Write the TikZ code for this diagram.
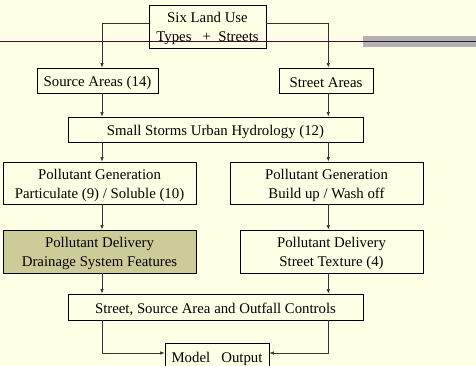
\documentclass[tikz,border=0pt]{standalone}
\usepackage{fontspec}
\setmainfont{Liberation Serif}
\usetikzlibrary{arrows.meta,calc}
\definecolor{bg}{HTML}{FFFFE5}
\definecolor{olive}{HTML}{CCCC99}
\definecolor{barg}{HTML}{B2B2B2}
\definecolor{rule}{HTML}{3A0A3A}
\begin{document}
\begin{tikzpicture}[x=1pt,y=-1pt,
  box/.style={draw=black,line width=0.9pt,inner sep=0pt,fill=bg},
  txt/.style={inner sep=0pt,align=center,yshift=-2pt,
    font=\fontsize{14.8}{19}\selectfont},
  arr/.style={draw=black!80,line width=0.6pt,-{Latex[length=4.5pt,width=3.5pt]}}]
\fill[bg] (0,0) rectangle (476,366);
\useasboundingbox (0,0) rectangle (476,366);
\clip (0,0) rectangle (476,366);
\coordinate (xL) at (102,0);
\coordinate (xR) at (328.3,0);
\coordinate (yT) at (0,23.3);
\coordinate (yB) at (0,353);
\node[box,minimum width=117pt,minimum height=43pt] (top) at (207.5,26.5) {};
\node[box,minimum width=121pt,minimum height=25pt] (src) at (97.5,80.5) {};
\node[box,minimum width=94pt,minimum height=25pt] (str) at (326,80.5) {};
\node[box,minimum width=295pt,minimum height=25pt] (hyd) at (215.5,129.5) {};
\node[box,minimum width=193pt,minimum height=42pt] (genL) at (99.5,183) {};
\node[box,minimum width=193pt,minimum height=42pt] (genR) at (326.5,183) {};
\node[box,fill=olive,minimum width=193pt,minimum height=43pt] (delL) at (99.5,251.5) {};
\node[box,minimum width=183pt,minimum height=43pt] (delR) at (331.5,251.5) {};
\node[box,minimum width=295pt,minimum height=26pt] (ctrl) at (215.5,307) {};
\node[box,minimum width=104pt,minimum height=26pt] (out) at (217,356.5) {};
\node[txt] (topT) at (top.center) {Six Land Use\\Types\ \ \ +\ \ Streets};
\node[txt] (srcT) at (src.center) {Source Areas (14)};
\node[txt] (strT) at (str.center) {Street Areas};
\node[txt] (hydT) at (hyd.center) {Small Storms Urban Hydrology (12)};
\node[txt] (genLT) at (genL.center) {Pollutant Generation\\Particulate (9) / Soluble (10)};
\node[txt] (genRT) at (genR.center) {Pollutant Generation\\Build up / Wash off};
\node[txt] (delLT) at (delL.center) {Pollutant Delivery\\Drainage System Features};
\node[txt] (delRT) at (delR.center) {Pollutant Delivery\\Street Texture (4)};
\node[txt] (ctrlT) at (ctrl.center) {Street, Source Area and Outfall Controls};
\node[txt] (outT) at (out.center) {Model\ \ \ Output};
\draw[arr] (top.west |- yT) -| (src.north -| xL);
\draw[arr] (top.east |- yT) -| (str.north -| xR);
\draw[arr] (src.south -| xL) -- (hyd.north -| xL);
\draw[arr] (str.south -| xR) -- (hyd.north -| xR);
\draw[arr] (hyd.south -| xL) -- (genL.north -| xL);
\draw[arr] (hyd.south -| xR) -- (genR.north -| xR);
\draw[arr] (genL.south -| xL) -- (delL.north -| xL);
\draw[arr] (genR.south -| xR) -- (delR.north -| xR);
\draw[arr] (delL.south -| xL) -- (ctrl.north -| xL);
\draw[arr] (delR.south -| xR) -- (ctrl.north -| xR);
\draw[arr] (ctrl.south -| xL) |- (out.west |- yB);
\draw[arr] (ctrl.south -| xR) |- (out.east |- yB);
\fill[barg] (363,36.3) rectangle (476,47.3);
\draw[rule,line width=1.2pt] (0,41.3) -- (476,41.3);
\end{tikzpicture}
\end{document}
